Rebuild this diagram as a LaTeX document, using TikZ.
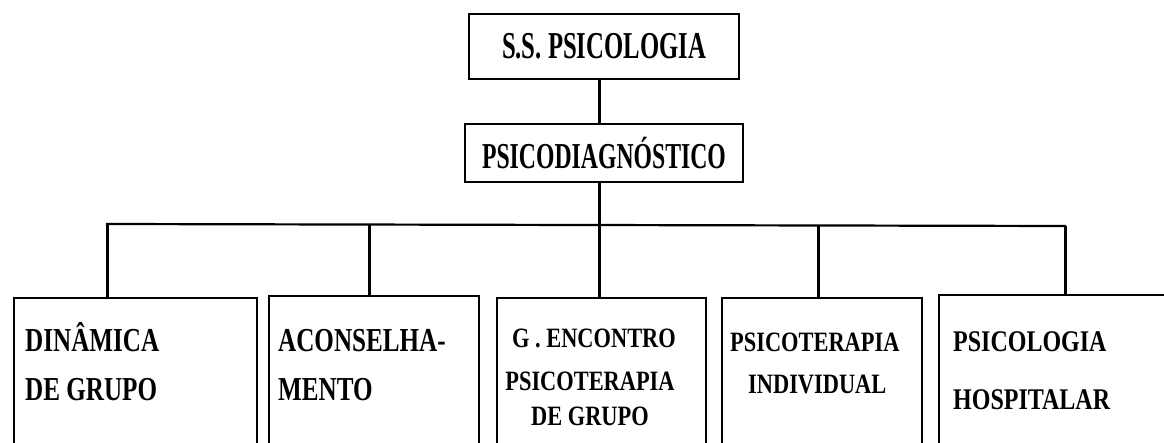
\documentclass[tikz,border=0pt]{standalone}
\usepackage{fontspec}
\newfontfamily\fA[FakeStretch=0.65]{Liberation Serif}
\newfontfamily\fB[FakeStretch=0.75]{Liberation Serif}
\newfontfamily\fC[FakeStretch=0.80]{Liberation Serif}
\tikzset{
  box/.style={draw, line width=2pt, inner sep=0pt, minimum width=#1},
  cbox/.style={draw, line width=2pt, inner sep=0pt, minimum width=#1, minimum height=170pt, anchor=north west},
  conn/.style={line width=3pt},
  bus/.style={line width=2.2pt},
  big/.style={font=\fA\bfseries\fontsize{38}{40}\selectfont, inner sep=0pt},
  lab/.style={font=\fB\bfseries\fontsize{33.5}{36}\selectfont, inner sep=0pt, anchor=base west},
  labs/.style={font=\fC\bfseries\fontsize{28}{30}\selectfont, inner sep=0pt},
}
\begin{document}
\begin{tikzpicture}[x=1pt,y=-1pt]
\useasboundingbox (0,0) rectangle (1164,443);
\clip (0,0) rectangle (1164,443);
% top boxes
\node[box=270pt, minimum height=65pt, big] (top) at (604,46.5) {S.S. PSICOLOGIA};
\node[box=278pt, minimum height=58pt, big, font=\fA\bfseries\fontsize{36.5}{40}\selectfont] (mid) at (604,153) {PSICODIAGN\'OSTICO};
% children boxes (extend below the page)
\node[cbox=243pt] (b1) at (13,297) {};
\node[cbox=210pt] (b2) at (268,295) {};
\node[cbox=209pt] (b3) at (496,297) {};
\node[cbox=200pt] (b4) at (721,297) {};
\node[cbox=250pt] (b5) at (938,294) {};
% bus
\coordinate (bl) at (107,224);
\coordinate (br) at (1065,226);
\draw[bus] ([xshift=-1pt]bl) -- ([xshift=1pt]br);
\draw[conn] ([xshift=-5pt]top.south) -- ([xshift=-5pt]mid.north);
\draw[conn] ([xshift=-5pt]mid.south) -- ++(0,43);
\draw[conn] (bl) -- (bl |- b1.north);
\draw[conn] (369,225) -- (369,0 |- b2.north);
\draw[conn] (599,225) -- (599,0 |- b3.north);
\draw[conn] (818,226) -- (818,0 |- b4.north);
\draw[conn] (br) -- (br |- b5.north);
% labels
\node[lab] (l1a) at (25,352) {DIN\^AMICA};
\node[lab] (l1b) at (25,400) {DE GRUPO};
\node[lab] (l2a) at (278,352) {ACONSELHA-};
\node[lab] (l2b) at (278,400) {MENTO};
\node[labs, anchor=base] (l3a) at (594,348) {G . ENCONTRO};
\node[labs, anchor=base] (l3b) at (590,390) {PSICOTERAPIA};
\node[labs, anchor=base] (l3c) at (590,425) {DE GRUPO};
\node[labs, anchor=base west] (l4a) at (730,352) {PSICOTERAPIA};
\node[labs, anchor=base west] (l4b) at (748,393) {INDIVIDUAL};
\node[labs, anchor=base west, font=\fC\bfseries\fontsize{30}{32}\selectfont] (l5a) at (953,352) {PSICOLOGIA};
\node[labs, anchor=base west, font=\fC\bfseries\fontsize{30}{32}\selectfont] (l5b) at (953,409) {HOSPITALAR};
\end{tikzpicture}
\end{document}
